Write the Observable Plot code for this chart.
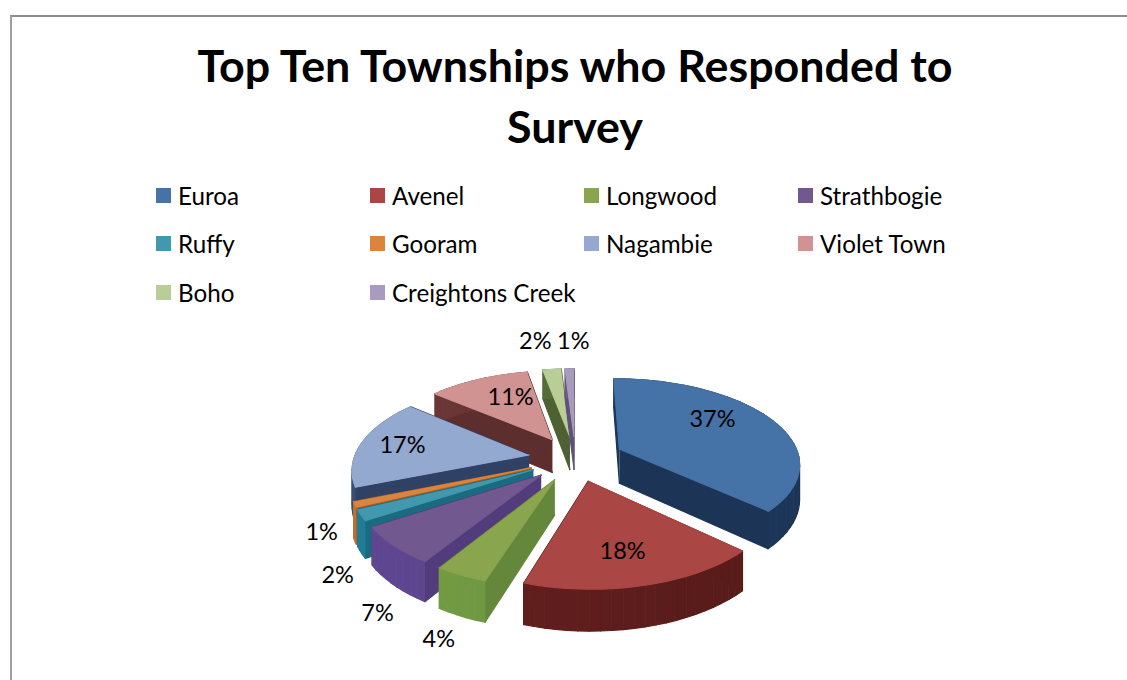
<!DOCTYPE html>
<html>
<head>
<meta charset="utf-8">
<script src="https://cdn.jsdelivr.net/npm/d3@7"></script>
<script src="https://cdn.jsdelivr.net/npm/@observablehq/plot@0.6"></script>
<style>
html,body{margin:0;padding:0;background:#fff;overflow:hidden;width:1127px;height:680px}
#frame{position:absolute;left:10px;top:15px;width:1117px;height:665px;box-sizing:border-box;border-left:2px solid #a0a0a0;border-top:2px solid #8c8c8c;pointer-events:none}
#head{position:relative;height:320px;font-family:Lato,sans-serif;color:#000}
#title{position:absolute;left:0;top:35px;width:1150px;text-align:center;font-weight:700;font-size:44.8px;line-height:61px;margin:0}
#legend{position:absolute;left:156px;top:171px;display:grid;grid-template-columns:repeat(4,214px);grid-auto-rows:48.5px;font-size:24.2px}
.item{display:flex;align-items:center;gap:7px;white-space:nowrap}
.sw{width:15px;height:15px;flex:none}
svg{display:block}
svg g[aria-label="line"]{filter:blur(0.6px)}
</style>
</head>
<body>
<div id="frame"></div>
<div id="head">
<h1 id="title">Top Ten Townships who Responded to<br>Survey</h1>
<div id="legend"></div>
</div>
<div id="chart"></div>
<script>
const townships = ["Euroa","Avenel","Longwood","Strathbogie","Ruffy","Gooram","Nagambie","Violet Town","Boho","Creightons Creek"];
const percents = [37,18,4,7,2,1,17,11,2,1];
const topColors = ["#4572A7","#AA4643","#89A54E","#71588F","#4198AF","#DB843D","#93A9CF","#D19392","#B9CD96","#A99BBD"];
const wallColors = ["#1c3557","#561b1a","#64873b","#523c7c","#1a6a80","#a05f28","#2f4265","#5c2e2e","#4d6133","#5f5276"];
const drawOrder = [8,9,7,6,5,4,3,0,2,1];
const labelRadius = [0.958,0.975,1.728,1.682,1.588,1.469,0.997,0.91,1.783,1.761];
const labelAngle = [58.6,166.7,199.4,210.8,223.5,238,279.2,333.6,350.9,359.5];

// pie geometry (projection of the tilted disc)
const cx = 575, cy = 458, A = 180, ALeft = 175, B = 84, k = 0.15, explode = 0.27, depth = 34;
const rad = d => d * Math.PI / 180;
const project = (X, Z, drop = 0, a = X < 0 ? ALeft : A) => {
  const s = 1 / (1 + k * Z);
  return {x: cx + a * X * s, y: cy - B * Z * s + drop * s};
};

const angles = d3.pie().sort(null).startAngle(0).endAngle(2 * Math.PI)(percents);
const polys = [];
let pid = 0;
const addPoly = (pts, color) => { const z = pid++; pts.forEach(p => polys.push({x: p.x, y: p.y, z, color})); };

drawOrder.forEach(i => {
  const a = angles[i];
  const mid = (a.startAngle + a.endAngle) / 2;
  const ox = explode * Math.sin(mid), oz = explode * Math.cos(mid);
  const rim = t => [ox + Math.sin(t), oz + Math.cos(t)];
  const n = Math.max(2, Math.ceil((a.endAngle - a.startAngle) / rad(3)));
  const ts = d3.range(n + 1).map(j => a.startAngle + (a.endAngle - a.startAngle) * j / n);
  const wall = wallColors[i];
  const apexT = project(ox, oz), apexB = project(ox, oz, depth);
  // radial walls
  [a.startAngle, a.endAngle].forEach(t => {
    const [X, Z] = rim(t);
    addPoly([apexT, project(X, Z), project(X, Z, depth), apexB], wall);
  });
  // outer wall, shaded along the rim
  for (let j = 0; j < n; j++) {
    const [X0, Z0] = rim(ts[j]), [X1, Z1] = rim(ts[j + 1]);
    const shade = 0.5 * (1 - Math.sin(ts[j])) / 2;
    addPoly([project(X0, Z0), project(X1, Z1), project(X1, Z1, depth), project(X0, Z0, depth)],
      d3.color(wall).brighter(shade).formatHex());
  }
  // top face
  addPoly([apexT, ...ts.map(t => { const [X, Z] = rim(t); return project(X, Z); })], topColors[i]);
});

const labels = percents.map((p, i) => {
  const X = labelRadius[i] * Math.sin(rad(labelAngle[i]));
  const Z = labelRadius[i] * Math.cos(rad(labelAngle[i]));
  const q = project(X, Z, 0, A);
  return {x: q.x, y: q.y, text: p + "%"};
});

const legend = d3.select("#legend");
townships.forEach((t, i) => {
  const item = legend.append("div").attr("class", "item");
  item.append("span").attr("class", "sw").style("background", topColors[i]);
  item.append("span").text(t);
});

const plot = Plot.plot({
  width: 1127, height: 360,
  marginTop: 0, marginRight: 0, marginBottom: 0, marginLeft: 0,
  x: {domain: [0, 1127], range: [0, 1127], axis: null},
  y: {domain: [320, 680], range: [0, 360], axis: null},
  style: {background: "transparent"},
  marks: [
    Plot.line(polys, {x: "x", y: "y", z: "z", fill: "color", stroke: "color", strokeWidth: 1.2, curve: "linear"}),
    Plot.text(labels, {x: "x", y: "y", text: "text", fontSize: 23.5, fontFamily: "Lato, sans-serif", fill: "#000"})
  ]
});
document.getElementById("chart").appendChild(plot);
</script>
</body>
</html>
